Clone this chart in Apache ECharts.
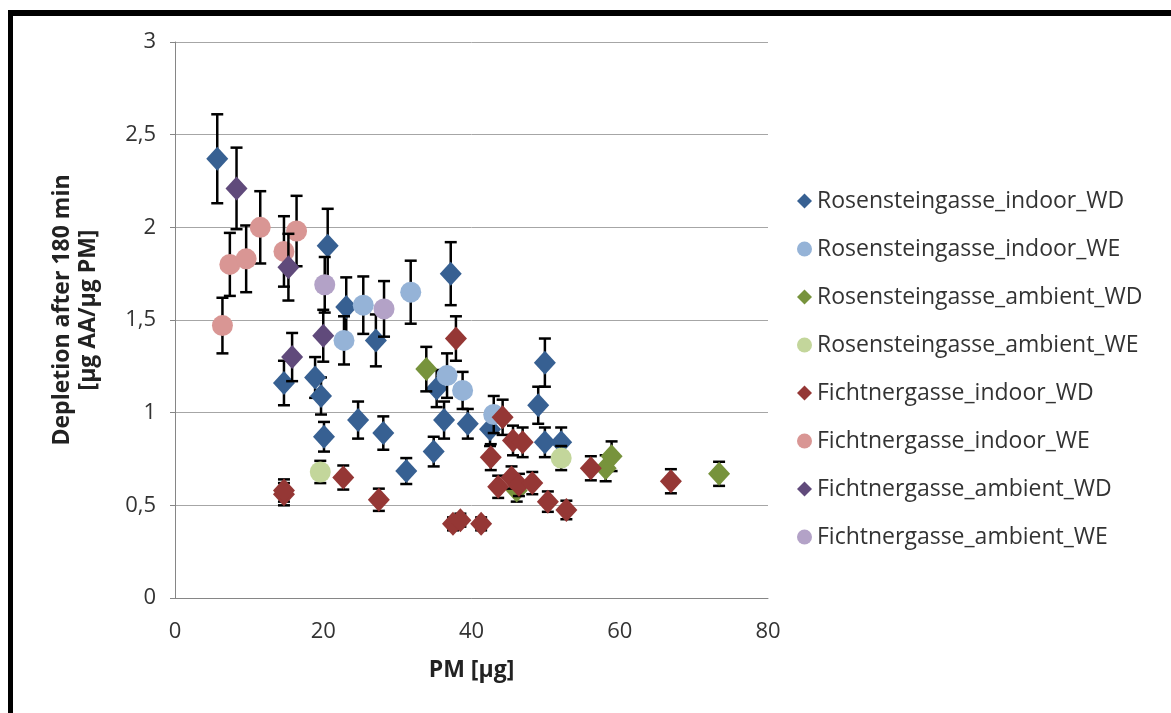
<!DOCTYPE html>
<html>
<head>
<meta charset="utf-8">
<script src="https://cdn.jsdelivr.net/npm/echarts@6/dist/echarts.min.js"></script>
<style>
html,body{margin:0;padding:0;background:#fff;}
#chart{width:1171px;height:713px;}
</style>
</head>
<body>
<div id="chart"></div>
<script>
// ---- Data ----
const seriesNames = [
  'Rosensteingasse_indoor_WD','Rosensteingasse_indoor_WE',
  'Rosensteingasse_ambient_WD','Rosensteingasse_ambient_WE',
  'Fichtnergasse_indoor_WD','Fichtnergasse_indoor_WE',
  'Fichtnergasse_ambient_WD','Fichtnergasse_ambient_WE'
];

const rosIndoorWD_x = [5.7,14.7,18.9,19.7,20.1,20.6,23.1,24.7,27.1,28.1,31.2,34.9,35.3,36.3,37.2,39.5,42.5,49.0,49.9,49.9,52.1];
const rosIndoorWD_y = [2.37,1.16,1.19,1.09,0.87,1.90,1.57,0.96,1.39,0.89,0.685,0.79,1.13,0.96,1.75,0.94,0.91,1.04,1.27,0.84,0.84];
const rosIndoorWD_e = [0.24,0.12,0.11,0.10,0.08,0.20,0.16,0.10,0.14,0.09,0.07,0.08,0.10,0.10,0.17,0.08,0.09,0.10,0.13,0.08,0.08];

const rosIndoorWE_x = [22.8,25.4,31.8,36.7,38.8,43.0];
const rosIndoorWE_y = [1.39,1.58,1.65,1.20,1.12,0.99];
const rosIndoorWE_e = [0.13,0.155,0.17,0.12,0.10,0.10];

const rosAmbWD_x = [33.9,46.1,58.1,58.9,73.4];
const rosAmbWD_y = [1.235,0.58,0.70,0.765,0.67];
const rosAmbWD_e = [0.12,0.06,0.07,0.08,0.065];

const rosAmbWE_x = [19.6,52.1];
const rosAmbWE_y = [0.68,0.755];
const rosAmbWE_e = [0.06,0.065];

const fichIndoorWD_x = [14.7,14.7,22.7,27.5,37.5,38.5,41.3,37.9,42.6,43.6,44.2,45.4,45.6,46.4,46.9,48.2,50.3,52.8,56.1,66.9];
const fichIndoorWD_y = [0.56,0.58,0.65,0.53,0.40,0.42,0.40,1.40,0.76,0.60,0.975,0.65,0.85,0.61,0.84,0.62,0.52,0.475,0.70,0.63];
const fichIndoorWD_e = [0.06,0.06,0.065,0.06,0.035,0.035,0.035,0.12,0.07,0.06,0.095,0.06,0.08,0.06,0.08,0.06,0.055,0.05,0.065,0.065];

const fichIndoorWE_x = [6.4,7.4,9.6,11.5,14.7,16.4];
const fichIndoorWE_y = [1.47,1.80,1.83,2.00,1.87,1.98];
const fichIndoorWE_e = [0.15,0.17,0.18,0.195,0.19,0.19];

const fichAmbWD_x = [8.3,15.3,15.8,20.0];
const fichAmbWD_y = [2.21,1.785,1.30,1.415];
const fichAmbWD_e = [0.22,0.18,0.13,0.14];

const fichAmbWE_x = [20.2,28.2];
const fichAmbWE_y = [1.69,1.56];
const fichAmbWE_e = [0.15,0.15];

const xTicks = [0,20,40,60,80];
const yTicks = ['0','0,5','1','1,5','2','2,5','3'];

// ---- Build options ----
const groups = [
  [rosIndoorWD_x, rosIndoorWD_y, rosIndoorWD_e],
  [rosIndoorWE_x, rosIndoorWE_y, rosIndoorWE_e],
  [rosAmbWD_x, rosAmbWD_y, rosAmbWD_e],
  [rosAmbWE_x, rosAmbWE_y, rosAmbWE_e],
  [fichIndoorWD_x, fichIndoorWD_y, fichIndoorWD_e],
  [fichIndoorWE_x, fichIndoorWE_y, fichIndoorWE_e],
  [fichAmbWD_x, fichAmbWD_y, fichAmbWD_e],
  [fichAmbWE_x, fichAmbWE_y, fichAmbWE_e]
];
const colors = ['#376092','#95B3D7','#77933C','#C3D69B','#953735','#D99694','#604A7B','#B3A2C7'];
const symbols = ['diamond','circle','diamond','circle','diamond','circle','diamond','circle'];
const sizes = [[22,24],[21,21],[22,24],[21,21],[22,24],[21,21],[22,24],[21,21]];

function errRender(params, api) {
  const x = api.value(0), y = api.value(1), e = api.value(2);
  const top = api.coord([x, y + e]);
  const bot = api.coord([x, y - e]);
  const hw = 6;
  const st = {stroke:'#000', lineWidth:2.5};
  return {
    type:'group',
    children:[
      {type:'line', shape:{x1:top[0],y1:top[1],x2:bot[0],y2:bot[1]}, style:st},
      {type:'line', shape:{x1:top[0]-hw,y1:top[1],x2:top[0]+hw,y2:top[1]}, style:st},
      {type:'line', shape:{x1:bot[0]-hw,y1:bot[1],x2:bot[0]+hw,y2:bot[1]}, style:st}
    ]
  };
}

const series = [];
groups.forEach((g, i) => {
  const pts = g[0].map((x, k) => [x, g[1][k], g[2][k]]);
  series.push({
    type:'custom',
    renderItem: errRender,
    data: pts,
    encode:{x:0, y:1},
    z: 2 + i*2,
    silent:true
  });
  series.push({
    name: seriesNames[i],
    type:'scatter',
    data: pts.map(p => [p[0], p[1]]),
    symbol: symbols[i],
    symbolSize: sizes[i],
    itemStyle:{color: colors[i], opacity:1},
    z: 3 + i*2
  });
});

const chart = echarts.init(document.getElementById('chart'), null, {renderer:'canvas'});
chart.setOption({
  animation:false,
  backgroundColor:'#fff',
  grid:{left:175, right:403, top:42, bottom:115, containLabel:false},
  xAxis:{
    type:'value', min:0, max:80, interval:20,
    axisLine:{show:true, lineStyle:{color:'#868686', width:1}},
    axisTick:{show:false},
    splitLine:{show:false},
    axisLabel:{color:'#333', fontFamily:'Open Sans', fontSize:22, margin:23,
      formatter: v => String(xTicks[Math.round(v/20)])},
    name:'PM [µg]', nameLocation:'middle', nameGap:61,
    nameTextStyle:{color:'#222', fontFamily:'Open Sans', fontWeight:'bold', fontSize:23}
  },
  yAxis:{
    type:'value', min:0, max:3, interval:0.5,
    axisLine:{show:true, lineStyle:{color:'#868686', width:1}},
    axisTick:{show:true, length:5, inside:false, lineStyle:{color:'#868686'}},
    splitLine:{show:true, lineStyle:{color:'#a6a6a6', width:1}},
    axisLabel:{color:'#333', fontFamily:'Open Sans', fontSize:22, margin:19,
      formatter: v => yTicks[Math.round(v*2)]}
  },
  legend:{
    orient:'vertical', left:792, top:183,
    itemWidth:15, itemHeight:15, itemGap:22,
    data: seriesNames,
    textStyle:{color:'#333', fontFamily:'Open Sans', fontSize:23, lineHeight:26, padding:[0,0,0,0]},
    selectedMode:false
  },
  graphic:[
    {type:'rect', shape:{x:8, y:10, width:5, height:703}, style:{fill:'#000'}, z:100},
    {type:'rect', shape:{x:8, y:10, width:1163, height:6}, style:{fill:'#000'}, z:100},
    {type:'text', x:75, y:310, rotation:Math.PI/2,
      style:{text:'Depletion after 180 min\n[µg AA/µg PM]', fill:'#222',
        font:'bold 23px "Open Sans"', align:'center', verticalAlign:'middle', lineHeight:26}, z:100}
  ],
  series: series
});
</script>
</body>
</html>
